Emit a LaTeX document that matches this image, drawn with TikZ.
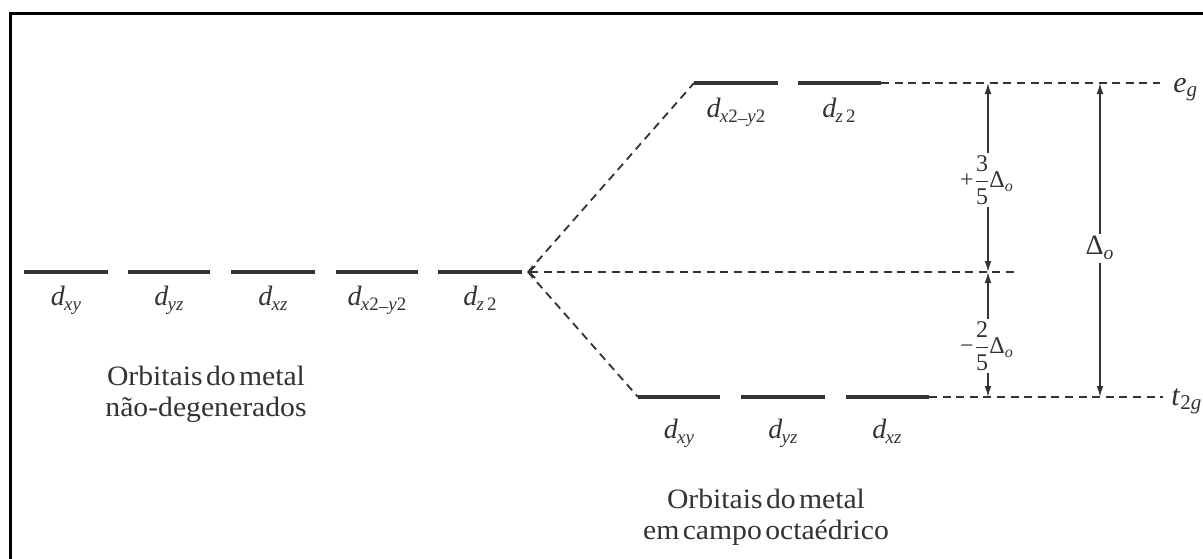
\documentclass[tikz,border=0pt]{standalone}
\usepackage{fontspec}
\setmainfont{Liberation Serif}
\newfontfamily\widefont[FakeStretch=1.06,WordSpace=0.45]{Liberation Serif}
\usetikzlibrary{arrows.meta}
\definecolor{ink}{gray}{0.2}
\tikzset{
  levelseg/.style={line width=1.6pt, draw=ink},
  guide/.style={line width=0.9pt, draw=ink, dash pattern=on 4pt off 2.8pt},
  gaparrow/.style={line width=0.75pt, draw=ink, {Latex[length=5.5pt,width=3.4pt]}-{Latex[length=5.5pt,width=3.4pt]}},
  dlab/.style={font=\fontsize{14}{16}\selectfont, text=ink, inner sep=0pt, anchor=base},
  caption/.style={font=\widefont\fontsize{14}{15.2}\selectfont, text=ink, align=center, inner sep=0pt, anchor=base},
  fraclab/.style={fill=white, inner sep=1.5pt, text=ink, font=\fontsize{12}{14}\selectfont},
  termlab/.style={font=\fontsize{15}{17}\selectfont, text=ink, inner sep=0pt, anchor=base west}
}
\newcommand\dsub[1]{\textit{d}\kern-0.03em\raisebox{-0.45ex}{\fontsize{9.5}{10}\selectfont #1}}
\newcommand\dash{\raisebox{-0.15ex}{–}}
\newcommand\splitlab[3]{#1$\displaystyle\frac{\mbox{#2}}{\mbox{#3}}$\kern-0.05emΔ\textsubscript{\textit{o}}}
\begin{document}
\begin{tikzpicture}[x=0.5pt,y=-0.5pt]
\useasboundingbox (0,0) rectangle (1203,558);
\clip (0,0) rectangle (1203,558);
\draw[line width=1.1pt, draw=black] (10.5,13.5) rectangle (1230,590);

% free-ion levels
\foreach \i/\a/\b in {1/24/108, 2/128/210, 3/231/315, 4/336/418, 5/438/522}{
  \coordinate (L\i a) at (\a,272);
  \coordinate (L\i b) at (\b,272);
  \draw[levelseg] (L\i a) -- (L\i b);
}
% e_g levels
\coordinate (E1a) at (694,83); \coordinate (E1b) at (778,83);
\coordinate (E2a) at (798,83); \coordinate (E2b) at (881,83);
\draw[levelseg] (E1a) -- (E1b);
\draw[levelseg] (E2a) -- (E2b);
% t_2g levels
\coordinate (T1a) at (638,397); \coordinate (T1b) at (720,397);
\coordinate (T2a) at (741,397); \coordinate (T2b) at (825,397);
\coordinate (T3a) at (846,397); \coordinate (T3b) at (929,397);
\draw[levelseg] (T1a) -- (T1b);
\draw[levelseg] (T2a) -- (T2b);
\draw[levelseg] (T3a) -- (T3b);

% guide lines
\coordinate (apex) at (528,272);
\coordinate (baryend) at (1019,272);
\coordinate (egend) at (1160,83);
\coordinate (tgend) at (1163,397);
\draw[guide] (apex) -- (E1a);
\draw[guide] (apex) -- (T1a);
\draw[guide, {Straight Barb[length=3pt,width=6pt,line width=0.8pt]}-] (apex) -- (baryend);
\draw[guide] (E2b) -- (egend);
\draw[guide] (T3b) -- (tgend);

% energy arrows
\coordinate (A1) at (988,83); \coordinate (A2) at (988,272); \coordinate (A3) at (988,397);
\coordinate (B1) at (1100,83); \coordinate (B2) at (1100,397);
\draw[gaparrow] (A1) -- (A2);
\draw[gaparrow] (A2) -- (A3);
\draw[gaparrow] (B1) -- (B2);
\node[fraclab] (up) at (987,180) {\splitlab{+}{3}{5}};
\node[fraclab] (down) at (987,346) {\splitlab{−}{2}{5}};
\node[fraclab, font=\fontsize{14}{16}\selectfont] (delta) at (1100,248) {Δ\textsubscript{\textit{o}}};

% term labels
\node[termlab] (eg) at (1173,92) {\textit{e}\textsubscript{\textit{g}}};
\node[termlab] (tg) at (1171,405) {\textit{t}\textsubscript{2\textit{g}}};

% orbital labels
\node[dlab] (l1) at (66,305) {\dsub{\textit{xy}}};
\node[dlab] (l2) at (169,305) {\dsub{\textit{yz}}};
\node[dlab] (l3) at (273,305) {\dsub{\textit{xz}}};
\node[dlab] (l4) at (377,305) {\dsub{\textit{x}2\dash\textit{y}2}};
\node[dlab] (l5) at (480,305) {\dsub{\textit{z}\,2}};
\node[dlab] (e1) at (736,117) {\dsub{\textit{x}2\dash\textit{y}2}};
\node[dlab] (e2) at (839,117) {\dsub{\textit{z}\,2}};
\node[dlab] (t1) at (679,438) {\dsub{\textit{xy}}};
\node[dlab] (t2) at (783,438) {\dsub{\textit{yz}}};
\node[dlab] (t3) at (887,438) {\dsub{\textit{xz}}};

% captions (base anchor = last line's baseline)
\node[caption] (capL) at (206,416) {Orbitais do metal\\não-degenerados};
\node[caption] (capR) at (766,539) {Orbitais do metal\\em campo octaédrico};
\end{tikzpicture}
\end{document}
